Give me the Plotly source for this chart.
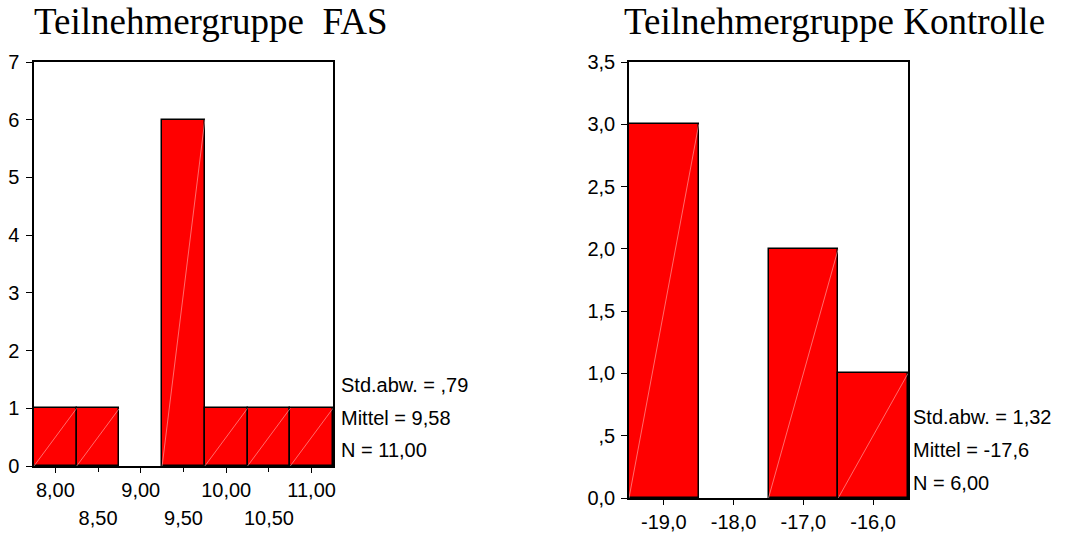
import plotly.graph_objects as go

# Histogram data: bin centres and counts for the two participant groups
fas_centers = [8.0, 8.5, 9.0, 9.5, 10.0, 10.5, 11.0]
fas_counts = [1, 1, 0, 6, 1, 1, 1]
fas_binwidth = 0.5
fas_major_ticks = [8.0, 9.0, 10.0, 11.0]
fas_major_text = ["8,00", "9,00", "10,00", "11,00"]
fas_minor_ticks = [8.5, 9.5, 10.5]
fas_minor_text = ["8,50", "9,50", "10,50"]
fas_stats = ["Std.abw. = ,79", "Mittel = 9,58", "N = 11,00"]

ktr_centers = [-19.0, -18.0, -17.0, -16.0]
ktr_counts = [3, 0, 2, 1]
ktr_binwidth = 1.0
ktr_xtick_text = ["-19,0", "-18,0", "-17,0", "-16,0"]
ktr_yticks = [0, 0.5, 1.0, 1.5, 2.0, 2.5, 3.0, 3.5]
ktr_ytick_text = ["0,0", ",5", "1,0", "1,5", "2,0", "2,5", "3,0", "3,5"]
ktr_stats = ["Std.abw. = 1,32", "Mittel = -17,6", "N = 6,00"]

W, H = 1065, 535
SANS = "Liberation Sans, Arial, sans-serif"
SERIF = "Liberation Serif, Times New Roman, serif"
RED = "#ff0000"

fig = go.Figure()


def add_hist(centers, counts, width, xa, ya):
    # empty bins get no outline so the baseline stays a single axis line
    outline = [1.5 if n > 0 else 0 for n in counts]
    fig.add_trace(go.Bar(
        x=centers, y=counts, width=width, xaxis=xa, yaxis=ya,
        marker=dict(color=RED, line=dict(color="black", width=outline)),
        showlegend=False, hoverinfo="x+y",
    ))
    # faint diagonal highlight across each filled bar
    dx, dy = [], []
    for c, n in zip(centers, counts):
        if n > 0:
            dx += [c - width / 2, c + width / 2, None]
            dy += [0, n, None]
    fig.add_trace(go.Scatter(
        x=dx, y=dy, mode="lines", xaxis=xa, yaxis=ya,
        line=dict(color="rgba(255,200,200,0.9)", width=0.6),
        showlegend=False, hoverinfo="skip",
    ))


add_hist(fas_centers, fas_counts, fas_binwidth, "x", "y")
add_hist(ktr_centers, ktr_counts, ktr_binwidth, "x2", "y2")

# invisible trace so the second-row tick axis of the FAS panel is rendered
fig.add_trace(go.Scatter(x=[fas_centers[0]], y=[0], xaxis="x3", yaxis="y",
                         mode="markers", marker=dict(opacity=0),
                         showlegend=False, hoverinfo="skip"))

axis_common = dict(
    showgrid=False, zeroline=False, showline=True, mirror=True,
    linecolor="black", linewidth=1.5, ticks="outside", tickcolor="black",
    tickwidth=1, tickfont=dict(family=SANS, size=20, color="black"),
    automargin=False,
)

fas_range = [fas_centers[0] - fas_binwidth / 2, fas_centers[-1] + fas_binwidth / 2]
ktr_range = [ktr_centers[0] - ktr_binwidth / 2, ktr_centers[-1] + ktr_binwidth / 2]

fig.update_layout(
    template="none",
    width=W, height=H, autosize=False,
    margin=dict(l=0, r=0, t=0, b=0, pad=0),
    paper_bgcolor="white", plot_bgcolor="white",
    bargap=0, showlegend=False,
    xaxis=dict(
        **axis_common, domain=[34 / W, 333 / W], range=fas_range, anchor="y",
        tickmode="array", tickvals=fas_major_ticks, ticktext=fas_major_text,
        ticklen=5, ticklabelstandoff=0,
    ),
    xaxis3=dict(
        showgrid=False, zeroline=False, showline=False, automargin=False,
        ticks="outside", tickcolor="black", tickwidth=1, ticklen=5,
        tickfont=dict(family=SANS, size=20, color="black"),
        overlaying="x", anchor="y", side="bottom", range=fas_range,
        tickmode="array", tickvals=fas_minor_ticks, ticktext=fas_minor_text,
        ticklabelstandoff=29,
    ),
    yaxis=dict(
        **axis_common, domain=[1 - 466 / H, 1 - 62 / H], range=[0, 7],
        anchor="x", tickmode="linear", tick0=0, dtick=1, ticklen=6,
        ticklabelstandoff=3,
    ),
    xaxis2=dict(
        **axis_common, domain=[629 / W, 908 / W], range=ktr_range, anchor="y2",
        tickmode="array", tickvals=ktr_centers, ticktext=ktr_xtick_text,
        ticklen=5, ticklabelstandoff=0,
    ),
    yaxis2=dict(
        **axis_common, domain=[1 - 498 / H, 1 - 62 / H], range=[0, 3.5],
        anchor="x2", tickmode="array", tickvals=ktr_yticks,
        ticktext=ktr_ytick_text, ticklen=6, ticklabelstandoff=2,
    ),
)

annotations = [
    dict(text="Teilnehmergruppe\u00a0 FAS", x=211 / W, y=1 - 21 / H),
    dict(text="Teilnehmergruppe Kontrolle", x=834 / W, y=1 - 21 / H),
]
for a in annotations:
    a.update(xref="paper", yref="paper", xanchor="center", yanchor="middle",
             showarrow=False, font=dict(family=SERIF, size=37, color="black"))

for txt, ypx in zip(fas_stats, [385, 418, 450]):
    annotations.append(dict(text=txt, x=339 / W, y=1 - ypx / H))
for txt, ypx in zip(ktr_stats, [417, 450, 483]):
    annotations.append(dict(text=txt, x=911 / W, y=1 - ypx / H))
for a in annotations[2:]:
    a.update(xref="paper", yref="paper", xanchor="left", yanchor="middle",
             showarrow=False, font=dict(family=SANS, size=20, color="black"))

fig.update_layout(annotations=annotations)

fig.write_html("out.html")
